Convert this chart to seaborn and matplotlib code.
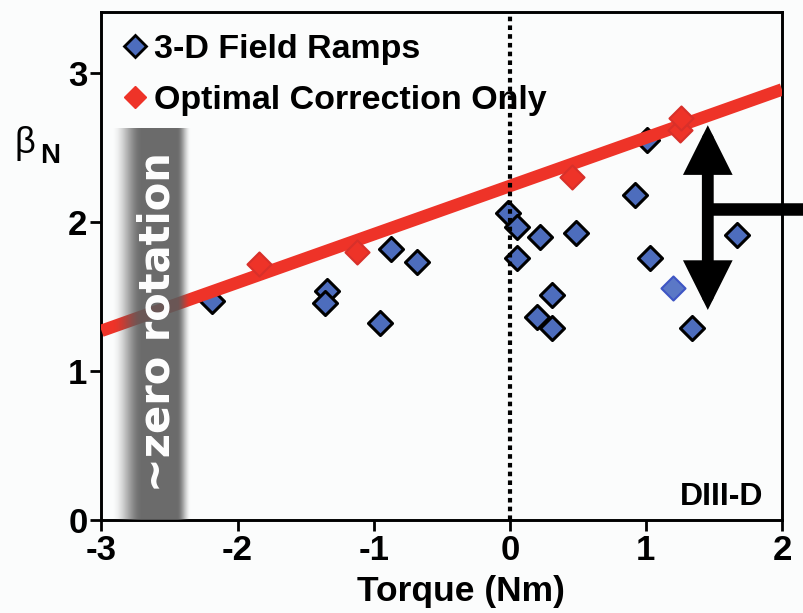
import numpy as np
import pandas as pd
import matplotlib
matplotlib.use("Agg")
import matplotlib.pyplot as plt
from matplotlib.lines import Line2D
import seaborn as sns

# --- data -----------------------------------------------------------------
ramp_torque = [-2.19, -1.34, -1.36, -0.955, -0.87, -0.68, -0.015, 0.05, 0.05,
               0.22, 0.49, 0.31, 0.20, 0.31, 1.01, 0.92, 1.03, 1.34, 1.67]
ramp_beta = [1.47, 1.54, 1.455, 1.32, 1.82, 1.73, 2.06, 1.965, 1.76,
             1.90, 1.925, 1.51, 1.36, 1.29, 2.55, 2.18, 1.76, 1.29, 1.91]
# one ramp shot drawn without the black outline
ramp_faint_torque = [1.20]
ramp_faint_beta = [1.56]

opt_torque = [-1.84, -1.12, 0.455, 1.25, 1.26]
opt_beta = [1.72, 1.80, 2.30, 2.62, 2.70]

fit_torque = [-3.0, 2.0]
fit_beta = [1.27, 2.89]

x_ticks = [-3, -2, -1, 0, 1, 2]
y_ticks = [0, 1, 2, 3]

BLUE = "#4d6dbd"
RED = "#ee3328"

sns.set_style("ticks")
plt.rcParams["font.family"] = ["Liberation Sans", "DejaVu Sans"]
plt.rcParams["axes.unicode_minus"] = False
plt.rcParams["text.color"] = "black"
plt.rcParams["xtick.color"] = "black"
plt.rcParams["ytick.color"] = "black"
plt.rcParams["axes.labelcolor"] = "black"

fig = plt.figure(figsize=(8.04, 6.13), dpi=100, facecolor="#fbfcfc")
ax = fig.add_axes([0.1262, 0.1517, 0.8464, 0.8287])
ax.set_facecolor("#fbfcfc")

ramps = pd.DataFrame({"torque": ramp_torque, "beta": ramp_beta})
faint = pd.DataFrame({"torque": ramp_faint_torque, "beta": ramp_faint_beta})
opt = pd.DataFrame({"torque": opt_torque, "beta": opt_beta})
fit = pd.DataFrame({"torque": fit_torque, "beta": fit_beta})

sns.scatterplot(data=ramps, x="torque", y="beta", marker="D", s=150,
                color=BLUE, edgecolor="black", linewidth=2.2, ax=ax,
                zorder=3, legend=False)
sns.scatterplot(data=faint, x="torque", y="beta", marker="D", s=150,
                color="#5b78c6", edgecolor="#3e55c4", linewidth=1.5, ax=ax,
                zorder=3, legend=False)
sns.lineplot(data=fit, x="torque", y="beta", color=RED, linewidth=9,
             ax=ax, zorder=4, legend=False, solid_capstyle="butt")
sns.scatterplot(data=opt, x="torque", y="beta", marker="D", s=150,
                color=RED, edgecolor="#d8302a", linewidth=1.5, ax=ax,
                zorder=5, legend=False)

# vertical dotted line at zero torque
ax.axvline(0, color="black", linestyle=(0, (1.1, 1.0)), linewidth=3,
           dash_capstyle="butt", zorder=6)

# shaded "zero rotation" band with soft edges
band_lo, band_core_lo, band_core_hi, band_hi, band_top = -2.92, -2.70, -2.44, -2.34, 2.63
xs = np.linspace(band_lo, band_hi, 300)
alpha = np.ones_like(xs)
left = xs < band_core_lo
right = xs > band_core_hi
t = (xs[left] - band_lo) / (band_core_lo - band_lo)
alpha[left] = t * t * (3 - 2 * t)
t = (band_hi - xs[right]) / (band_hi - band_core_hi)
alpha[right] = t * t * (3 - 2 * t)
rgba = np.zeros((1, xs.size, 4))
rgba[..., :3] = 0.36
rgba[..., 3] = alpha * 0.9
ax.imshow(rgba, extent=[band_lo, band_hi, 0, band_top], aspect="auto",
          zorder=7, interpolation="bilinear")
ax.text(-2.59, 1.33, "~zero rotation", rotation=90, color="white",
        fontsize=30, family="DejaVu Sans", fontweight="bold",
        ha="center", va="center", zorder=8)

# double-headed arrow with a connector leaving the frame
ax.annotate("", xy=(1.455, 2.65), xytext=(1.455, 1.41),
            arrowprops=dict(arrowstyle="<|-|>,head_length=1.1,head_width=0.55",
                            lw=8.5, color="black", mutation_scale=20,
                            shrinkA=0, shrinkB=0, joinstyle="miter"),
            zorder=9)
ax.plot([1.455, 2.3], [2.09, 2.09], color="black", linewidth=9,
        solid_capstyle="butt", clip_on=False, zorder=9)

ax.text(1.86, 0.10, "DIII-D", fontsize=23, fontweight="bold", ha="right",
        va="baseline", zorder=9)

ax.set_xlim(-3, 2)
ax.set_ylim(0, 3.41)
ax.set_xticks(x_ticks)
ax.set_yticks(y_ticks)
ax.set_xticklabels([str(v) for v in x_ticks])
ax.set_yticklabels([str(v) for v in y_ticks])
ax.tick_params(axis="both", direction="out", length=8, width=2, color="black",
               labelcolor="black", labelsize=25, pad=2)
for lbl in ax.get_xticklabels() + ax.get_yticklabels():
    lbl.set_fontweight("bold")
for sp in ax.spines.values():
    sp.set_visible(True)
    sp.set_linewidth(2.1)
    sp.set_color("black")

ax.set_xlabel("Torque (Nm)", fontsize=25.5, fontweight="bold", color="black")
ax.xaxis.set_label_coords(0.528, -0.108)
ax.set_ylabel("")

# y-axis label: beta with bold subscript N
fig.text(15 / 804, 1 - 153 / 613, "\u03b2", fontsize=26, ha="left", va="baseline")
fig.text(40 / 804, 1 - 163 / 613, "N", fontsize=20, fontweight="bold",
         ha="left", va="baseline")

handles = [
    Line2D([], [], linestyle="none", marker="D", markersize=11,
           markerfacecolor=BLUE, markeredgecolor="black", markeredgewidth=2),
    Line2D([], [], linestyle="none", marker="D", markersize=11,
           markerfacecolor=RED, markeredgecolor=RED, markeredgewidth=1),
]
leg = ax.legend(handles, ["3-D Field Ramps", "Optimal Correction Only"],
                loc="upper left", bbox_to_anchor=(0.0345, 0.957), frameon=False,
                borderpad=0, borderaxespad=0, handlelength=0.6,
                handletextpad=0.24, labelspacing=0.6,
                prop=dict(size=24.5, weight="bold"))
for txt in leg.get_texts():
    txt.set_color("black")
leg.set_zorder(10)

fig.savefig("out.png", dpi=100, facecolor=fig.get_facecolor())
